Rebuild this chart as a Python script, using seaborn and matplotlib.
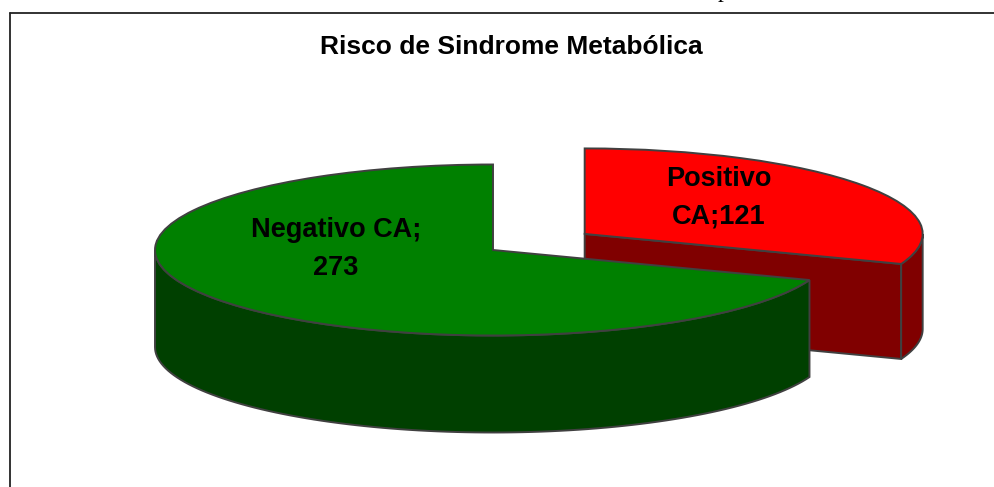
import numpy as np
import seaborn as sns
import matplotlib.pyplot as plt

categories = ['Negativo CA', 'Positivo CA']
values = [273, 121]
top_colors = ['#008000', '#ff0000']
wall_colors = ['#004000', '#800000']
labels = ['Negativo CA;\n273', 'Positivo\nCA;121']

W, H = 995, 487
RX, RY = 338, 85.5   # pie radius in pixels, flattened for the 3d look
CX, CY = 493, 250    # centre of the green slice
EXPLODE = 0.33
DEPTH = 97 / RY
RED_DEPTH = 95 / RY
EDGE = '#404040'

sns.set_theme(style='white')
plt.rcParams['font.family'] = ['Liberation Sans', 'DejaVu Sans']

fig = plt.figure(figsize=(W / 100, H / 100), dpi=100)
ax = fig.add_axes([0, 0, 1, 1])

wedges, _ = ax.pie(values, startangle=90, explode=[0, EXPLODE], colors=top_colors,
                   wedgeprops={'edgecolor': EDGE, 'linewidth': 1.4})
# pie forces a round aspect, squash it back into pixel units
ax.set_aspect('auto')
ax.set_xlim(-CX / RX, (W - CX) / RX)
ax.set_ylim(-(H - CY) / RY, CY / RY)

split = 90 + 360 * values[0] / sum(values)

# green outer wall, visible part of the rim only
t = np.radians(np.linspace(180, split, 100))
x, y = np.cos(t), np.sin(t)
ax.fill(np.r_[x, x[::-1]], np.r_[y, y[::-1] - DEPTH], facecolor=wall_colors[0],
        edgecolor=EDGE, linewidth=1.4, zorder=3)

# red walls, offset by the explode
mid = np.radians((split + 450) / 2)
ox, oy = EXPLODE * np.cos(mid), EXPLODE * np.sin(mid)
sp = np.radians(split)
ax.fill([ox, ox + np.cos(sp), ox + np.cos(sp), ox],
        [oy, oy + np.sin(sp), oy + np.sin(sp) - RED_DEPTH, oy - RED_DEPTH],
        facecolor=wall_colors[1], edgecolor=EDGE, linewidth=1.4, zorder=1)
t = np.radians(np.linspace(split, 360, 30))
x, y = ox + np.cos(t), oy + np.sin(t)
ax.fill(np.r_[x, x[::-1]], np.r_[y, y[::-1] - RED_DEPTH], facecolor=wall_colors[1],
        edgecolor=EDGE, linewidth=1.4, zorder=1)

wedges[1].set_zorder(2)
wedges[0].set_zorder(4)

def px(xp, yp):
    return (xp - CX) / RX, (CY - yp) / RY

ax.text(*px(336, 249), labels[0], ha='center', va='center', fontsize=19.5, fontweight='bold',
        color='black', linespacing=1.58, zorder=5)
ax.text(*px(719, 198), labels[1], ha='center', va='center', fontsize=19.5, fontweight='bold',
        color='black', linespacing=1.58, zorder=5)

ax.set_axis_off()

# chart frame, runs off the page on the other sides
fig.add_artist(plt.Line2D([9.5 / W, 9.5 / W], [0, 1 - 13 / H], color='#222222', lw=1.3))
fig.add_artist(plt.Line2D([9.5 / W, 1], [1 - 13 / H, 1 - 13 / H], color='#222222', lw=1.3))

fig.text(511 / W, 1 - 47 / H, 'Risco de Sindrome Metabólica', ha='center', va='center',
         fontsize=19, fontweight='bold', color='black')

# bit of the line above the chart, cut by the page edge
fig.text(724 / W, 1 + 8 / H, 'p', ha='center', va='center', fontsize=17,
         family='Liberation Serif', color='black')

fig.savefig('out.png', dpi=100, facecolor='white')
